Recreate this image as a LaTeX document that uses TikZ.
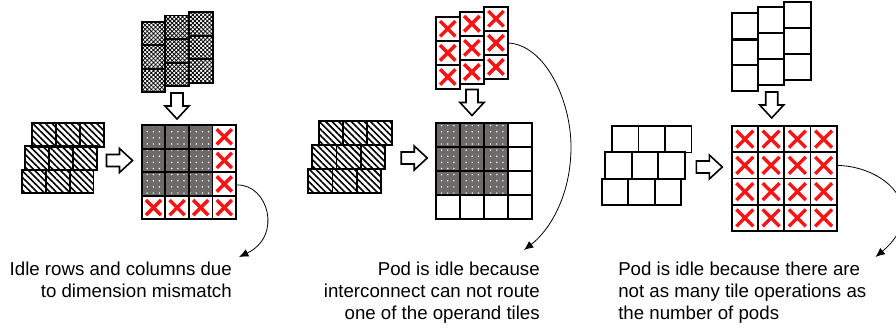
\documentclass[tikz,border=0pt]{standalone}
\usepackage{fontspec}
\setmainfont{Liberation Sans}
\usetikzlibrary{arrows.meta}
\usetikzlibrary{patterns.meta}
\definecolor{podgray}{RGB}{110,106,106}
\definecolor{xred}{RGB}{250,20,20}
\tikzset{
  tilebox/.style={draw=black, line width=1.4pt},
  hatchtile/.style={tilebox, pattern={Lines[angle=-45,distance=3.4pt,line width=1.2pt]}},
  checktile/.style={tilebox, pattern={Hatch[angle=45,distance=2.2pt,line width=0.6pt]}},
  podcell/.style={tilebox, preaction={fill=podgray}, pattern={Dots[distance=4.6pt,radius=0.6pt]}, pattern color=white},
  redcross/.style={draw=xred, line width=2.6pt},
  blockarrow/.style={draw=black, line width=1.2pt, fill=white},
  idlearrow/.style={draw=black, line width=0.6pt, -{Latex[length=7pt,width=6pt]}},
  note/.style={inner sep=0pt, font=\fontsize{14}{16.5}\selectfont}
}
\newcommand{\createtile}[4]{\draw[#4] ({#1},{#2}) rectangle ++(#3,#3);}
\newcommand{\createcross}[3]{\draw[redcross] ({#1+0.18*#3},{#2+0.18*#3}) -- ++({0.64*#3},{0.64*#3}); \draw[redcross] ({#1+0.18*#3},{#2+0.82*#3}) -- ++({0.64*#3},{-0.64*#3});}
\newcommand{\createarrow}[3]{\draw[blockarrow, shift={(#1,#2)}, rotate=#3] (-13,-6) -- (0,-6) -- (0,-12) -- (13,0) -- (0,12) -- (0,6) -- (-13,6) -- cycle;}

\begin{document}
\begin{tikzpicture}[x=0.75pt, y=-0.75pt]
    \useasboundingbox (0,0) rectangle (896,328);
    %dimension mismatch
    \foreach \col/\tp in {0/21.7, 1/15.5, 2/12} {
        \foreach \row in {0,1,2} {\createtile{141.7+23.7*\col}{\tp+23.5*\row}{23.6}{checktile}}}
    \foreach \row/\lft in {0/32, 1/25, 2/21.7} {
        \foreach \col in {0,1,2} {\createtile{\lft+24*\col}{123+23.3*\row}{23.8}{hatchtile}}}
    \createarrow{177}{106}{-90}
    \createarrow{119.5}{160.5}{0}
    \foreach \i in {0,1,2} {\foreach \j in {0,1,2} {\createtile{141.7+23.6*\i}{125+23.6*\j}{23.6}{podcell}}}
    \foreach \i/\j in {3/0,3/1,3/2,0/3,1/3,2/3,3/3} {
        \createtile{141.7+23.6*\i}{125+23.6*\j}{23.6}{tilebox}
        \createcross{141.7+23.6*\i}{125+23.6*\j}{23.6}}
    %unrouted operand
    \foreach \col/\tp in {0/16.7, 1/11.7, 2/6.7} {
        \foreach \row in {0,1,2} {
            \createtile{435.7+24.1*\col}{\tp+24.1*\row}{24.1}{tilebox}
            \createcross{435.7+24.1*\col}{\tp+24.1*\row}{24.1}}}
    \foreach \row/\lft in {0/319, 1/312.3, 2/308.3} {
        \foreach \col in {0,1,2} {\createtile{\lft+24.2*\col}{121+24.1*\row}{24.2}{hatchtile}}}
    \createarrow{472}{102.5}{-90}
    \createarrow{414.2}{158}{0}
    \foreach \i in {0,...,3} {\foreach \j in {0,...,3} {\createtile{435.7+24*\i}{122.7+24*\j}{24}{tilebox}}}
    \foreach \i in {0,1,2} {\foreach \j in {0,1,2} {\createtile{435.7+24*\i}{122.7+24*\j}{24}{podcell}}}
    %too few tile operations
    \foreach \col/\tp in {0/13.3, 1/6.7, 2/1.7} {
        \foreach \row in {0,1,2} {\createtile{731.7+26.3*\col}{\tp+25.9*\row}{26.3}{tilebox}}}
    \foreach \row/\lft in {0/612, 1/605.3, 2/601.7} {
        \foreach \col in {0,1,2} {\createtile{\lft+26.5*\col}{126+26.3*\row}{26.5}{tilebox}}}
    \createarrow{771.7}{105}{-90}
    \createarrow{709.3}{167}{0}
    \foreach \i in {0,...,3} {\foreach \j in {0,...,3} {
        \createtile{731.7+26.25*\i}{126+26.25*\j}{26.25}{tilebox}
        \createcross{731.7+26.25*\i}{126+26.25*\j}{26.25}}}
    %notes
    \node[note, anchor=north east, align=right] (idlerows) at (232,262) {Idle rows and columns due\\to dimension mismatch};
    \node[note, anchor=north east, align=right] (unrouted) at (540,262) {Pod is idle because\\interconnect can not route\\one of the operand tiles};
    \node[note, anchor=north west, align=left] (fewops) at (618,262) {Pod is idle because there are\\not as many tile operations as\\the number of pods};
    \coordinate (gridone) at (237,185);
    \coordinate (stacktwo) at (508.3,43);
    \coordinate (gridthree) at (836.7,165.4);
    \draw[idlearrow] (gridone) .. controls (268,184) and (283,236) .. ([shift={(7,-5)}]idlerows.north east);
    \draw[idlearrow] (stacktwo) .. controls (545,45) and (571,100) .. (571,147) .. controls (571,195) and (550,230) .. ([shift={(-16,-12)}]unrouted.north east);
    \draw[idlearrow] (gridthree) .. controls (870,166) and (900,185) .. (903,210) .. controls (905,230) and (890,245) .. ([shift={(9,-5)}]fewops.north east);
\end{tikzpicture}
\end{document}
